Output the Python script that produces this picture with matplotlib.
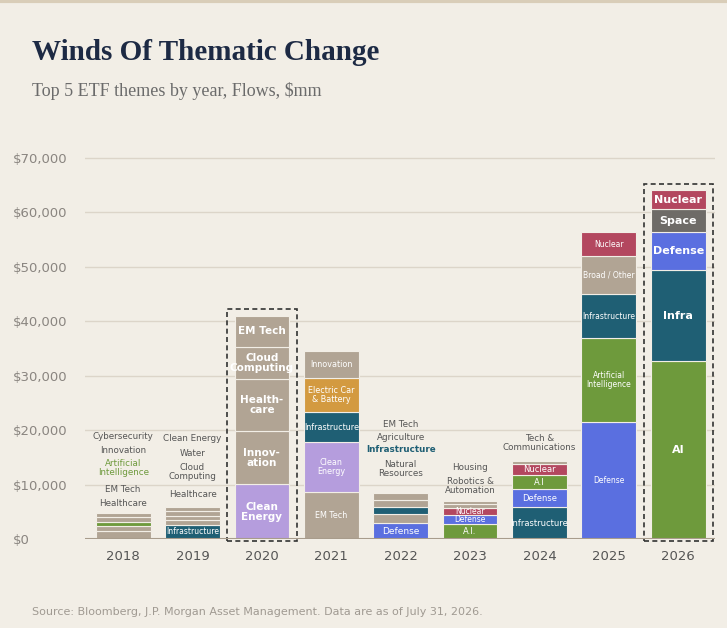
import matplotlib.pyplot as plt
import numpy as np

BG = "#f2eee6"
TAUPE = "#b1a494"
TEAL = "#1f5f74"
GREEN = "#6e9a3c"
BLUE = "#5a6fe0"
RED = "#b3475f"
PURPLE = "#b59ddd"
ORANGE = "#d39a40"
GRAY = "#6e6b67"

years = ["2018", "2019", "2020", "2021", "2022", "2023", "2024", "2025", "2026"]

# segments bottom-up per year: (label inside bar, value, colour)
seg_labels = [
    ["", "", "", "", ""],
    ["Infrastructure", "", "", "", ""],
    ["Clean\nEnergy", "Innov-\nation", "Health-\ncare", "Cloud\nComputing", "EM Tech"],
    ["EM Tech", "Clean\nEnergy", "Infrastructure", "Electric Car\n& Battery", "Innovation"],
    ["Defense", "", "", "", ""],
    ["A.I.", "Defense", "Nuclear", "", ""],
    ["Infrastructure", "Defense", "A.I", "Nuclear", ""],
    ["Defense", "Artificial\nIntelligence", "Infrastructure", "Broad / Other", "Nuclear"],
    ["AI", "Infra", "Defense", "Space", "Nuclear"],
]
seg_values = [
    [1500, 900, 800, 800, 800],
    [2600, 850, 850, 800, 800],
    [10100, 9700, 9600, 5900, 5700],
    [8600, 9200, 5500, 6200, 5000],
    [2900, 1700, 1300, 1200, 1300],
    [2800, 1650, 1300, 600, 600],
    [5800, 3400, 2500, 2100, 600],
    [21500, 15400, 8100, 7000, 4400],
    [32700, 16700, 7000, 4200, 3500],
]
seg_colors = [
    [TAUPE, TAUPE, GREEN, TAUPE, TAUPE],
    [TEAL, TAUPE, TAUPE, TAUPE, TAUPE],
    [PURPLE, TAUPE, TAUPE, TAUPE, TAUPE],
    [TAUPE, PURPLE, TEAL, ORANGE, TAUPE],
    [BLUE, TAUPE, TEAL, TAUPE, TAUPE],
    [GREEN, BLUE, RED, TAUPE, TAUPE],
    [TEAL, BLUE, GREEN, RED, TAUPE],
    [BLUE, GREEN, TEAL, TAUPE, RED],
    [GREEN, TEAL, BLUE, GRAY, RED],
]
label_sizes = [5.5, 5.5, 7.5, 5.8, 6.5, 6, 6, 5.5, 8]

# labels written above small bars (top-down), with colour
above_labels = {
    0: [("Cybersecurity", "#555"), ("Innovation", "#555"), ("Artificial\nIntelligence", GREEN),
        ("EM Tech", "#555"), ("Healthcare", "#555")],
    1: [("Clean Energy", "#555"), ("Water", "#555"), ("Cloud\nComputing", "#555"), ("Healthcare", "#555")],
    4: [("EM Tech", "#555"), ("Agriculture", "#555"), ("Infrastructure", TEAL), ("Natural\nResources", "#555")],
    5: [("Housing", "#555"), ("Robotics &\nAutomation", "#555")],
    6: [("Tech &\nCommunications", "#555")],
}
above_y = {
    0: [18800, 16200, 13000, 9100, 6600],
    1: [18400, 15800, 12300, 8100],
    4: [21000, 18700, 16500, 12800],
    5: [13200, 9800],
    6: [17700],
}

fig = plt.figure(figsize=(7.27, 6.28), dpi=100, facecolor=BG)
ax = fig.add_axes([85 / 727, (628 - 539) / 628, 630 / 727, 394 / 628], facecolor=BG)
x = np.arange(len(years))
w = 0.79

for i in range(len(years)):
    bottom = 0
    for lab, v, c in zip(seg_labels[i], seg_values[i], seg_colors[i]):
        ax.bar(x[i], v, w, bottom=bottom, color=c, edgecolor=BG, linewidth=0.8, zorder=3)
        if lab:
            fs = label_sizes[i]
            if i == 5 and lab != "A.I.":
                fs = 5.5
            ax.text(x[i], bottom + v / 2, lab, ha="center", va="center", color="white",
                    fontsize=fs, fontweight="bold" if i in (2, 8) else "normal",
                    linespacing=1.0, zorder=4)
        bottom += v
    if i in above_labels:
        for (lab, col), yy in zip(above_labels[i], above_y[i]):
            ax.text(x[i], yy, lab, ha="center", va="center", color=col, fontsize=6.3,
                    linespacing=1.0, fontweight="bold" if col == TEAL else "normal")

# dashed highlight boxes
for i in (2, 8):
    tot = sum(seg_values[i])
    ax.add_patch(plt.Rectangle((x[i] - 0.5, -300), 1.0, tot + 1500, fill=False,
                               linestyle=(0, (3, 2)), linewidth=1.2, edgecolor="#333", zorder=5,
                               clip_on=False))

ax.set_xlim(-0.55, 8.53)
ax.set_ylim(0, 72400)
ax.set_yticks(range(0, 70001, 10000))
ax.set_yticklabels([f"${v:,}" for v in range(0, 70001, 10000)], color="#8a8580", fontsize=9.5)
ax.set_xticks(x)
ax.set_xticklabels(years, color="#555", fontsize=9.5)
ax.tick_params(length=0, pad=8)
ax.grid(axis="y", color="#dcd5c9", linewidth=1, zorder=0)
for s in ax.spines.values():
    s.set_visible(False)
ax.axhline(0, color="#a89c8c", linewidth=1.5, zorder=6)
for lab in ax.get_yticklabels():
    lab.set_horizontalalignment("left")
ax.yaxis.set_tick_params(pad=52)

fig.text(32 / 727, 1 - 52 / 628, "Winds Of Thematic Change", fontsize=21, fontweight="bold",
         family="Liberation Serif", color="#1d2a44", va="center")
fig.text(32 / 727, 1 - 91 / 628, "Top 5 ETF themes by year, Flows, $mm", fontsize=13,
         family="Liberation Serif", color="#6b6b6b", va="center")
fig.text(32 / 727, 1 - 612 / 628, "Source: Bloomberg, J.P. Morgan Asset Management. Data are as of July 31, 2026.",
         fontsize=8, color="#a09a92", va="center")
fig.add_artist(plt.Line2D([0, 1], [0.998, 0.998], color="#d9cdb8", linewidth=3))

fig.savefig("out.png", dpi=100, facecolor=BG)
